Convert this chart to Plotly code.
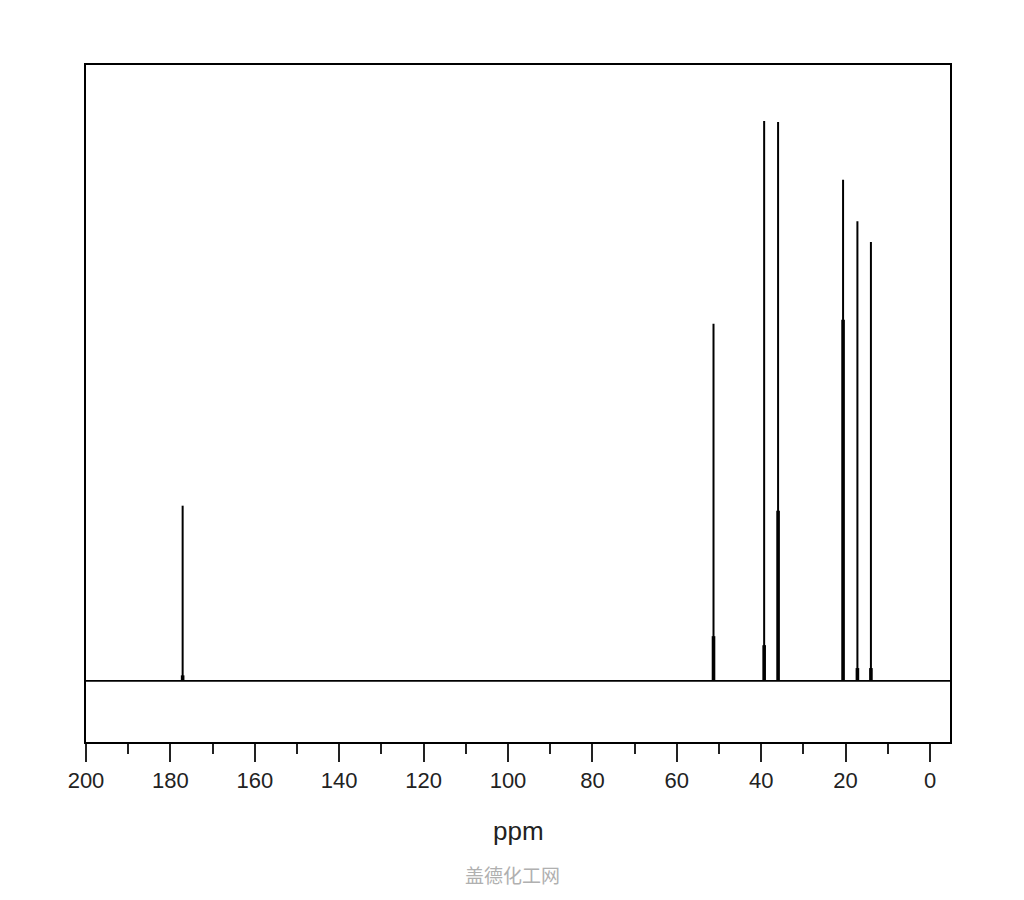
import plotly.graph_objects as go

# 13C NMR peaks (ppm) and relative heights (tallest = 100)
shift_ppm = [177.1, 51.3, 39.3, 36.0, 20.6, 17.2, 14.0]
peak_height = [31.3, 63.8, 100.0, 99.8, 89.5, 82.1, 78.4]
# lower, wider part of each peak (overlapping signal)
base_height = [1.0, 8.0, 6.4, 30.4, 64.5, 2.3, 2.3]

x_range = [200, -4.74]


def sticks(xs, hs):
    px, py = [], []
    for x, h in zip(xs, hs):
        px += [x, x, None]
        py += [0, h, None]
    return px, py


fig = go.Figure()

# baseline
fig.add_trace(go.Scatter(x=x_range, y=[0, 0], mode="lines",
                         line=dict(color="black", width=1.8), hoverinfo="skip"))

sx, sy = sticks(shift_ppm, peak_height)
fig.add_trace(go.Scatter(x=sx, y=sy, mode="lines",
                         line=dict(color="black", width=2)))

bx, by = sticks(shift_ppm, base_height)
fig.add_trace(go.Scatter(x=bx, y=by, mode="lines",
                         line=dict(color="black", width=3.6)))

fig.update_layout(
    width=1008, height=884,
    margin=dict(l=78, r=66, t=57, b=150),
    plot_bgcolor="white", paper_bgcolor="white",
    showlegend=False,
    font=dict(family="Liberation Sans, Arial, sans-serif", color="#222"),
    xaxis=dict(
        range=x_range, tick0=0, dtick=20,
        ticks="outside", ticklen=18, tickwidth=2, tickcolor="#222",
        minor=dict(dtick=10, ticks="outside", ticklen=10, tickwidth=2, tickcolor="#222"),
        showline=True, linecolor="black", linewidth=1.6, mirror=True,
        showgrid=False, zeroline=False,
        tickfont=dict(size=22, color="#222"),
    ),
    yaxis=dict(
        range=[-10.9, 110], showticklabels=False, ticks="",
        showline=True, linecolor="black", linewidth=1.6, mirror=True,
        showgrid=False, zeroline=False,
    ),
    annotations=[
        dict(text="ppm", x=0.501, y=-0.1315, xref="paper", yref="paper",
             xanchor="center", yanchor="middle",
             showarrow=False, font=dict(size=26, color="#222")),
        dict(text="盖德化工网", x=0.494, y=-0.196, xref="paper", yref="paper",
             xanchor="center", yanchor="middle",
             showarrow=False,
             font=dict(size=19, color="#b0b0b0", family="Noto Sans CJK SC")),
    ],
)

fig.write_html("out.html")
